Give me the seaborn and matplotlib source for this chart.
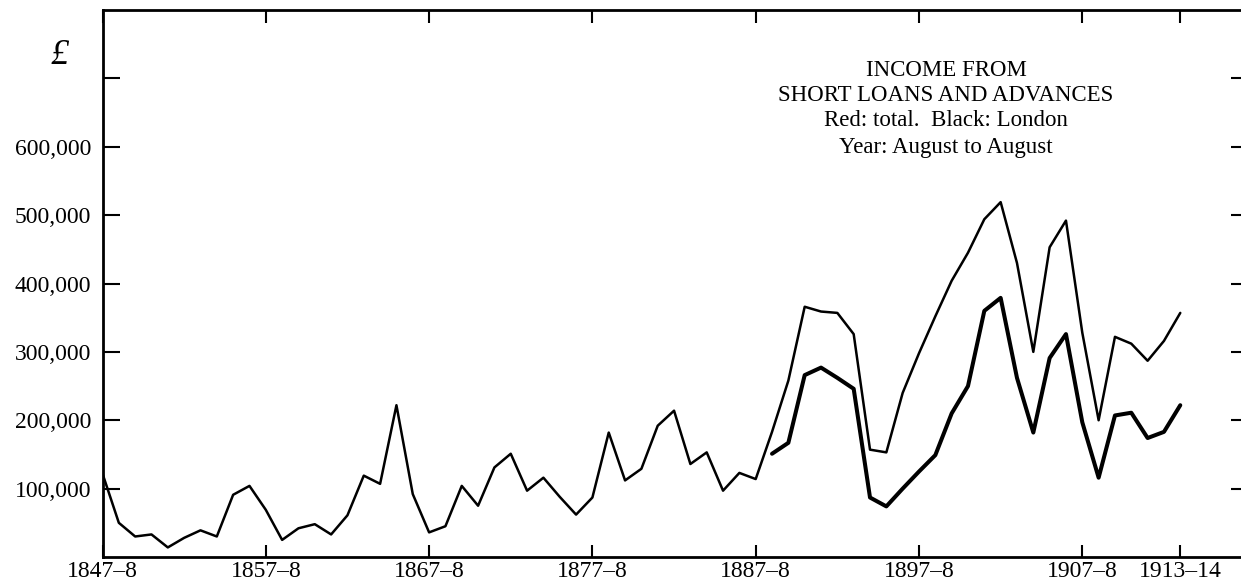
import numpy as np
import pandas as pd
import seaborn as sns
import matplotlib.pyplot as plt

# --- data (thousands of pounds) ---
years = list(range(1847, 1914))
total_k = [122, 50, 30, 33, 14, 28, 39, 30, 91, 104,      # 1847-56
           69, 25, 42, 48, 33, 61, 119, 107, 222, 92,     # 1857-66
           36, 45, 104, 75, 131, 151, 97, 116, 88, 62,    # 1867-76
           87, 182, 112, 129, 192, 214, 136, 153, 97, 123,  # 1877-86
           114, 183, 258, 366, 359, 357, 326, 157, 153, 240,  # 1887-96
           298, 352, 404, 445, 494, 519, 430, 300, 453, 492,  # 1897-1906
           328, 200, 322, 312, 287, 316, 357]              # 1907-13
london_years = list(range(1888, 1914))
london_k = [151, 167, 266, 277, 262, 246, 87, 74, 100, 125,
            149, 210, 250, 360, 379, 262, 182, 291, 326, 197,
            116, 207, 211, 174, 183, 222]

tick_years = [1847, 1857, 1867, 1877, 1887, 1897, 1907, 1913]
tick_labels = ['1847–8', '1857–8', '1867–8', '1877–8', '1887–8',
               '1897–8', '1907–8', '1913–14']
y_ticks = [100000, 200000, 300000, 400000, 500000, 600000, 700000]
y_labels = ['100,000', '200,000', '300,000', '400,000', '500,000', '600,000', '']

total_df = pd.DataFrame({'year': years, 'income': np.array(total_k) * 1000})
london_df = pd.DataFrame({'year': london_years, 'income': np.array(london_k) * 1000})

sns.set_style('ticks')
plt.rcParams['font.family'] = ['Liberation Serif', 'DejaVu Serif']
plt.rcParams['text.color'] = 'black'
plt.rcParams['xtick.color'] = 'black'
plt.rcParams['ytick.color'] = 'black'

fig = plt.figure(figsize=(12.41, 5.83), dpi=100)
ax = fig.add_axes([102.5 / 1241, 26 / 583, (1248 - 102.5) / 1241, (557 - 10) / 583])

sns.lineplot(data=total_df, x='year', y='income', ax=ax, color='black', linewidth=1.8)
sns.lineplot(data=london_df, x='year', y='income', ax=ax, color='black', linewidth=2.9)

ax.set_xlim(1847, 1847 + (1248 - 102.5) / 16.33)
ax.set_ylim(0, 800000)
ax.set_xlabel('')
ax.set_ylabel('')

ax.set_xticks(tick_years)
ax.set_xticklabels(tick_labels, fontsize=17)
ax.set_yticks(y_ticks)
ax.set_yticklabels(y_labels, fontsize=17)
ax.tick_params(axis='x', direction='in', length=9, width=1.5, top=True, pad=3)
ax.tick_params(axis='y', direction='in', length=12, width=1.5, right=True, pad=8)

for side in ['left', 'right', 'top', 'bottom']:
    ax.spines[side].set_visible(True)
    ax.spines[side].set_linewidth(2)
    ax.spines[side].set_color('black')

# heading block
cx = 946 / 1241
fig.text(cx, 1 - 70 / 583, 'INCOME FROM', ha='center', va='center', fontsize=16.5)
fig.text(cx, 1 - 95 / 583, 'SHORT LOANS AND ADVANCES', ha='center', va='center', fontsize=16.5)
fig.text(cx, 1 - 121 / 583, 'Red: total.  Black: London', ha='center', va='center', fontsize=16.5)
fig.text(cx, 1 - 147 / 583, 'Year: August to August', ha='center', va='center', fontsize=16.5)

fig.text(60 / 1241, 1 - 55 / 583, '£', ha='center', va='center', fontsize=26, style='italic')

fig.savefig('out.png', dpi=100)
